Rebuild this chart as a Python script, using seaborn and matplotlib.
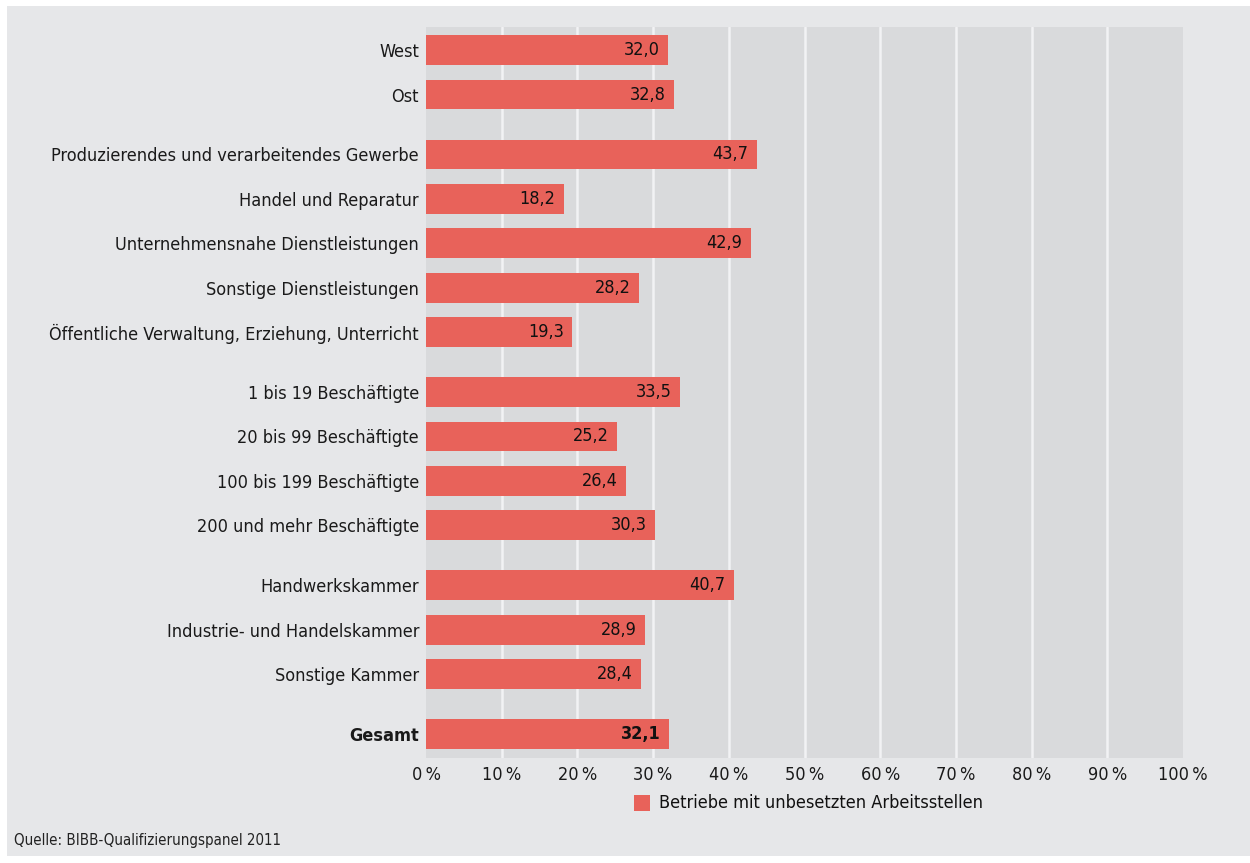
import matplotlib
matplotlib.use("Agg")
import matplotlib.pyplot as plt
from matplotlib.patches import Rectangle
import seaborn as sns
import pandas as pd

# Kategorien, gruppiert (Region, Branche, Betriebsgröße, Kammer, Gesamt)
categories = [
    "West", "Ost",
    "Produzierendes und verarbeitendes Gewerbe",
    "Handel und Reparatur",
    "Unternehmensnahe Dienstleistungen",
    "Sonstige Dienstleistungen",
    "Öffentliche Verwaltung, Erziehung, Unterricht",
    "1 bis 19 Beschäftigte",
    "20 bis 99 Beschäftigte",
    "100 bis 199 Beschäftigte",
    "200 und mehr Beschäftigte",
    "Handwerkskammer",
    "Industrie- und Handelskammer",
    "Sonstige Kammer",
    "Gesamt",
]
group_sizes = [2, 5, 4, 3, 1]
values = [32.0, 32.8, 43.7, 18.2, 42.9, 28.2, 19.3,
          33.5, 25.2, 26.4, 30.3, 40.7, 28.9, 28.4, 32.1]
tick_values = [0, 10, 20, 30, 40, 50, 60, 70, 80, 90, 100]
tick_labels = [f"{t}\u2009%" for t in tick_values]
series_name = "Betriebe mit unbesetzten Arbeitsstellen"
source_text = "Quelle: BIBB-Qualifizierungspanel 2011"

BAR = "#E8625A"
FIG_BG = "#E6E7E9"
AX_BG = "#D9DADC"

sns.set_theme(style="white")
plt.rcParams["font.family"] = ["DejaVu Sans"]
plt.rcParams["font.stretch"] = "condensed"

# y-Positionen mit zusätzlichem Abstand zwischen den Gruppen
positions = []
pos = 0.0
for n in group_sizes:
    for _ in range(n):
        positions.append(pos)
        pos += 1.0
    pos += 0.35

df = pd.DataFrame({"Kategorie": categories, "pos": positions, "Wert": values})

W, H = 1250, 863
fig = plt.figure(figsize=(12.5, 8.63), dpi=100, facecolor="white")
fig.patches.append(Rectangle((7 / W, 7 / H), 1 - 7 / W, 1 - 13 / H,
                             transform=fig.transFigure, facecolor=FIG_BG,
                             edgecolor="none", zorder=-10))

left, right, top, bottom = 426, 1183, 27, 758
ax = fig.add_axes([left / W, 1 - bottom / H, (right - left) / W, (bottom - top) / H])
ax.set_facecolor(AX_BG)

sns.barplot(data=df, x="Wert", y="pos", orient="h", native_scale=True,
            color=BAR, width=0.67, saturation=1, linewidth=0, ax=ax, zorder=3)

FS = 13
ax.set_xlim(0, 100)
ax.set_ylim(15.94, -0.52)
ax.set_xticks(tick_values)
ax.set_xticklabels(tick_labels, fontsize=FS, color="#1a1a1a")
ax.set_yticks(positions)
ax.set_yticklabels(categories, fontsize=FS, color="#1a1a1a")
ax.get_yticklabels()[-1].set_fontweight("bold")
ax.tick_params(axis="x", length=0, pad=6)
ax.tick_params(axis="y", length=0, pad=5)
ax.set_xlabel("")
ax.set_ylabel("")
for s in ax.spines.values():
    s.set_visible(False)
for t in tick_values[1:-1]:
    ax.axvline(t, color="#F2F2F4", lw=1.8, zorder=1)

for p, v, c in zip(positions, values, categories):
    ax.annotate(f"{v:.1f}".replace(".", ","), xy=(v, p), xytext=(-6, 0),
                textcoords="offset points", ha="right", va="center",
                fontsize=FS, color="#111111", zorder=4,
                fontweight="bold" if c == "Gesamt" else "normal")

# Legende
fig.patches.append(Rectangle((634 / W, 1 - 811 / H), 16 / W, 16 / H,
                             transform=fig.transFigure, facecolor=BAR,
                             edgecolor="none"))
fig.text(659 / W, 1 - 803 / H, series_name, fontsize=FS, color="#111111",
         ha="left", va="center")

fig.text(14 / W, 1 - 840 / H, source_text, fontsize=10.8, color="#222222",
         ha="left", va="center")

fig.savefig("out.png", dpi=100, facecolor=fig.get_facecolor())
